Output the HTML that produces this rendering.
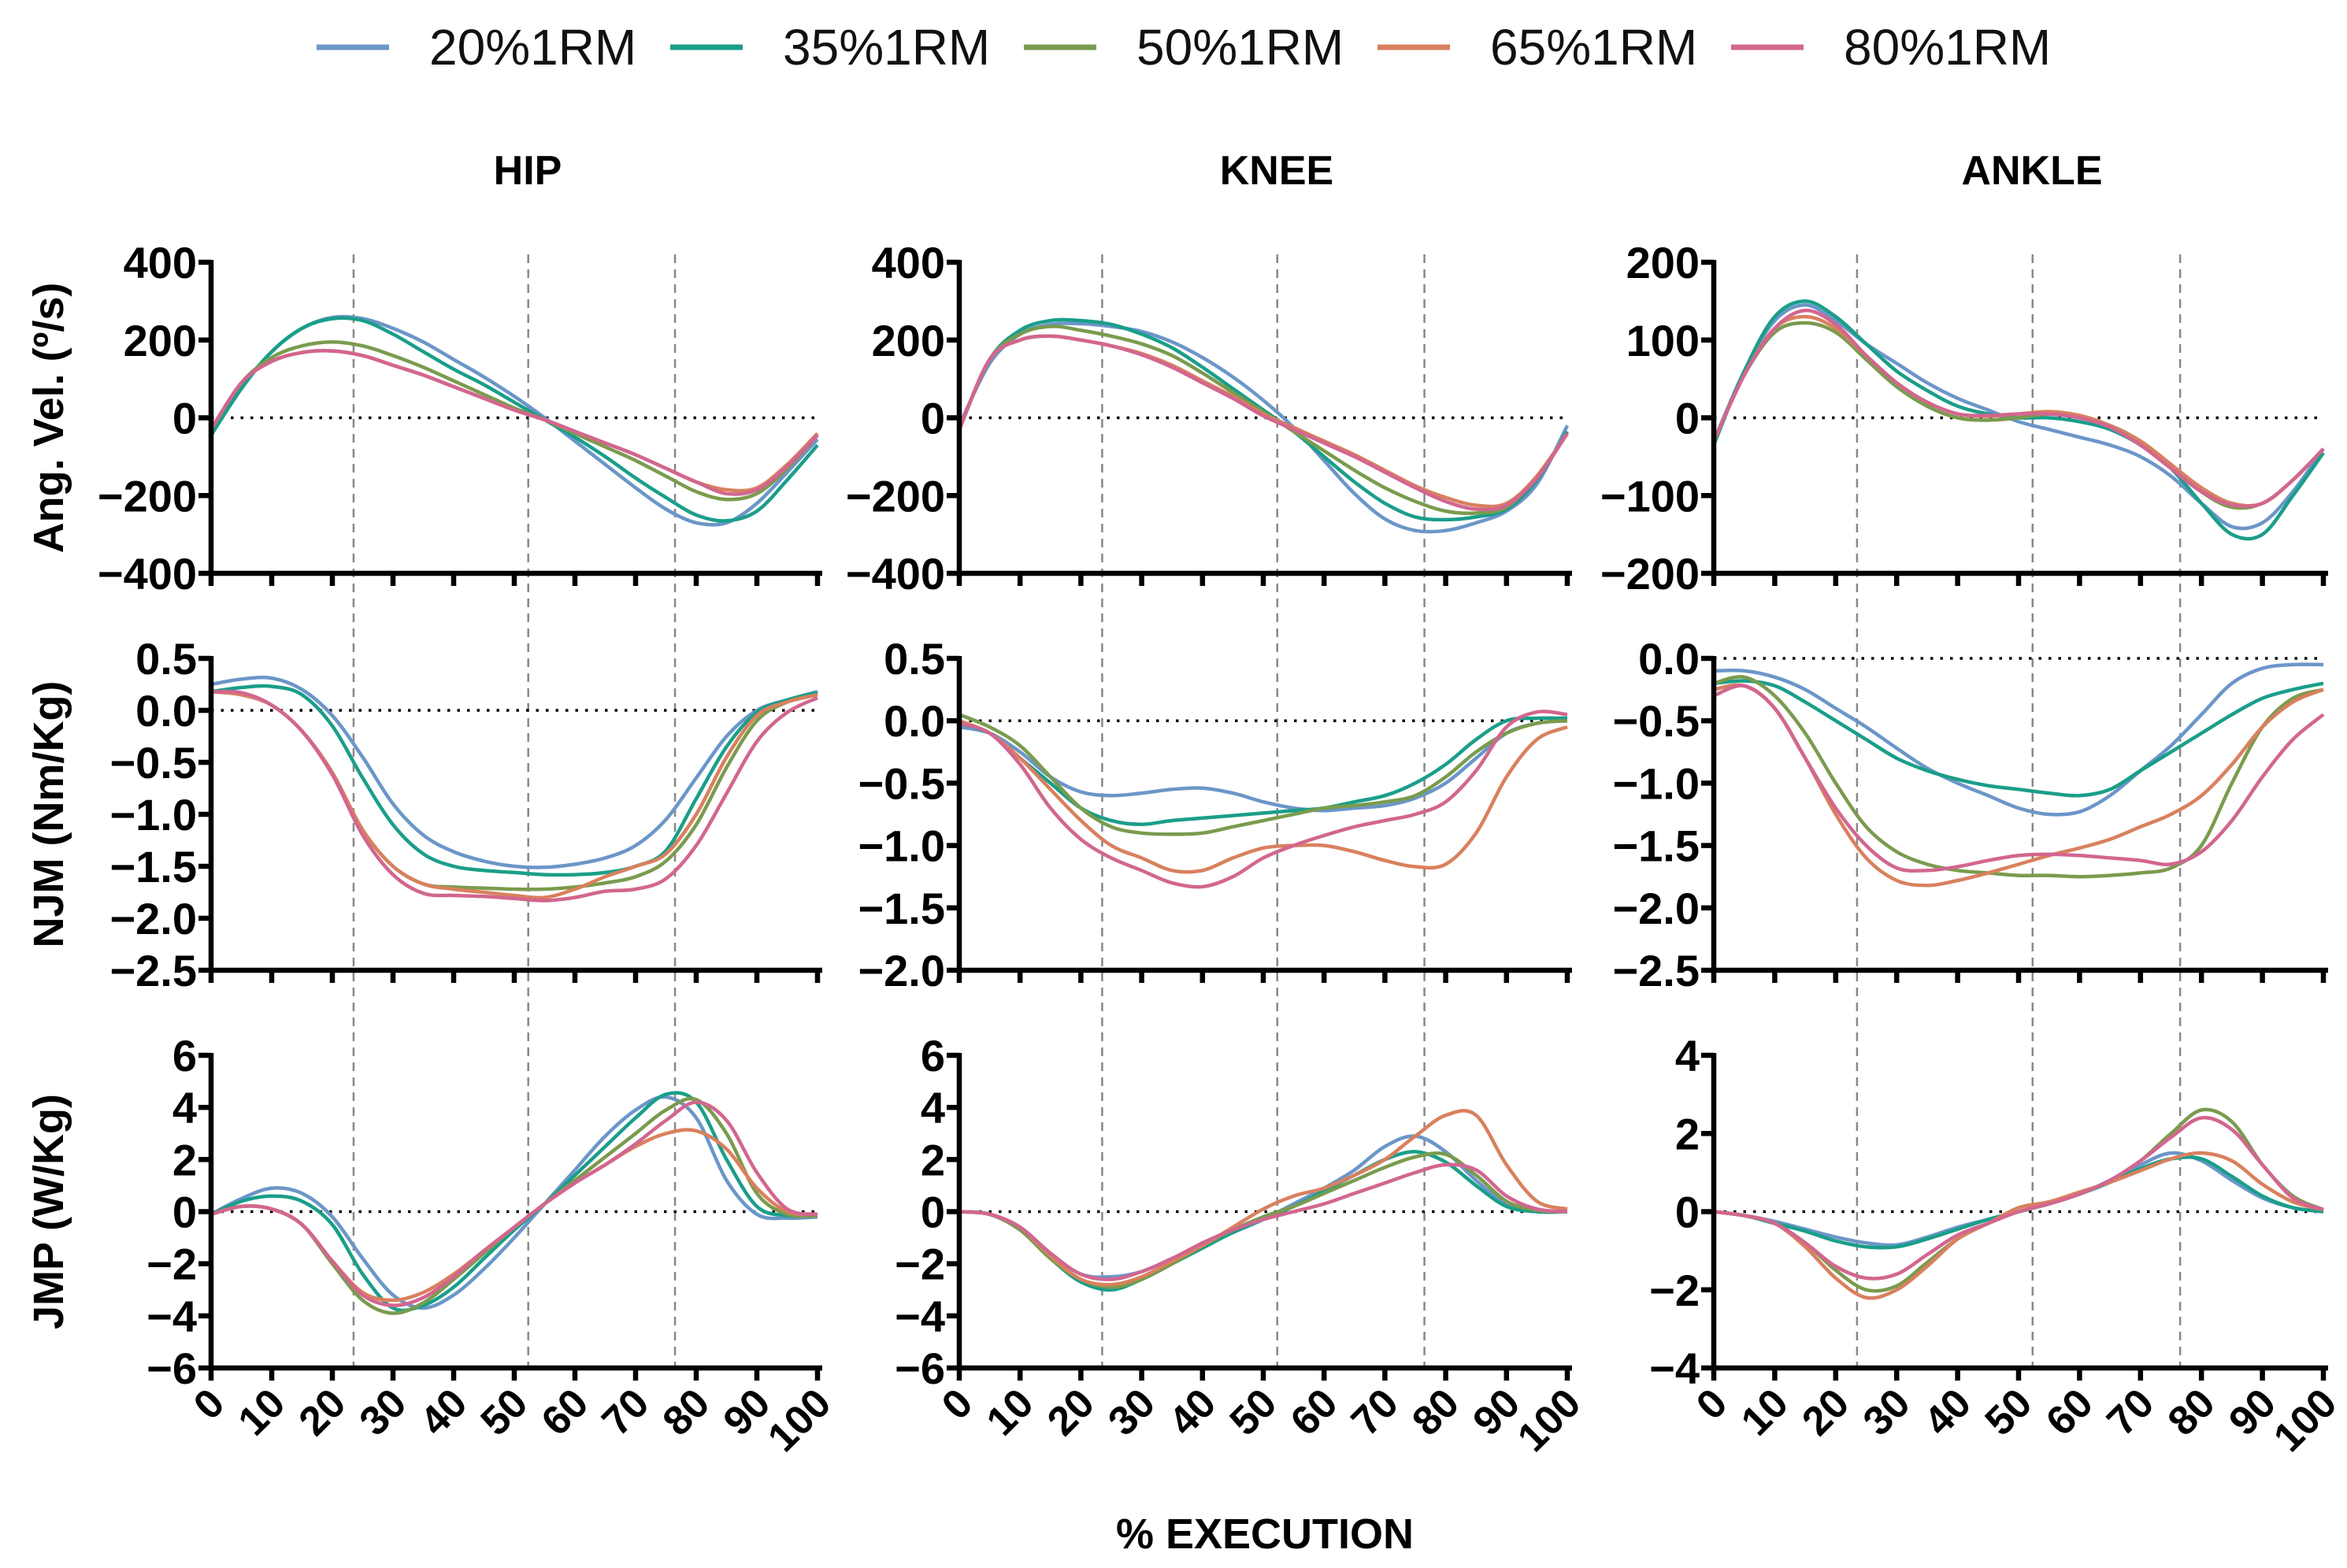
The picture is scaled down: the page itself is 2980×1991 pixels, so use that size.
<!DOCTYPE html>
<html><head><meta charset="utf-8"><style>
html,body{margin:0;padding:0;background:#fff}
svg{display:block;font-family:"Liberation Sans",Arial,sans-serif}
</style></head><body>
<svg id="chart" width="2980" height="1991" viewBox="0 0 2980 1991" xmlns="http://www.w3.org/2000/svg"></svg>
<script>
const xs = [0,5,10,15,20,25,30,35,40,45,50,55,60,65,70,75,80,85,90,95,100];
const seriesNames = ["20%1RM","35%1RM","50%1RM","65%1RM","80%1RM"];
const xTickLabels = ["0","10","20","30","40","50","60","70","80","90","100"];
const phaseLines = [23.5,52.3,76.5];
const colTitles = ["HIP","KNEE","ANKLE"];
const rowTitles = ["Ang. Vel. (º/s)","NJM (Nm/Kg)","JMP (W/Kg)"];
const yRanges = [[[-400,400],[-400,400],[-200,200]],[[-2.5,0.5],[-2.0,0.5],[-2.5,0.0]],[[-6,6],[-6,6],[-4,4]]];
const yTicks = [[[-400,-200,0,200,400],[-400,-200,0,200,400],[-200,-100,0,100,200]],
 [[-2.5,-2.0,-1.5,-1.0,-0.5,0.0,0.5],[-2.0,-1.5,-1.0,-0.5,0.0,0.5],[-2.5,-2.0,-1.5,-1.0,-0.5,0.0]],
 [[-6,-4,-2,0,2,4,6],[-6,-4,-2,0,2,4,6],[-4,-2,0,2,4]]];

const hipVel20=[-30,80,170,230,258,255,230,195,150,105,55,0,-60,-120,-180,-235,-270,-270,-220,-140,-55];
const hipVel35=[-45,75,170,230,255,250,215,170,125,85,40,-5,-50,-100,-155,-205,-250,-265,-240,-160,-70];
const hipVel50=[-30,90,155,185,195,185,160,130,95,60,25,-5,-40,-75,-110,-150,-190,-210,-195,-130,-45];
const hipVel65=[-30,90,145,168,172,160,135,110,80,50,20,-5,-35,-65,-95,-130,-165,-185,-180,-120,-40];
const hipVel80=[-30,90,145,168,172,160,135,110,80,50,20,-5,-35,-65,-95,-130,-165,-195,-185,-125,-45];
const hipNjm20=[0.25,0.3,0.31,0.2,-0.05,-0.45,-0.9,-1.2,-1.36,-1.45,-1.5,-1.51,-1.48,-1.42,-1.3,-1.05,-0.65,-0.25,0.0,0.1,0.18];
const hipNjm35=[0.18,0.22,0.23,0.15,-0.15,-0.65,-1.1,-1.38,-1.5,-1.54,-1.56,-1.58,-1.58,-1.56,-1.5,-1.35,-0.85,-0.35,-0.02,0.1,0.17];
const hipNjm50=[0.18,0.15,0.05,-0.2,-0.6,-1.15,-1.5,-1.67,-1.7,-1.71,-1.72,-1.72,-1.7,-1.66,-1.6,-1.45,-1.1,-0.55,-0.1,0.08,0.15];
const hipNjm65=[0.18,0.15,0.05,-0.2,-0.6,-1.15,-1.5,-1.67,-1.72,-1.75,-1.78,-1.8,-1.72,-1.6,-1.5,-1.38,-1.0,-0.45,-0.05,0.08,0.15];
const hipNjm80=[0.18,0.17,0.05,-0.2,-0.62,-1.2,-1.58,-1.76,-1.78,-1.79,-1.81,-1.83,-1.8,-1.74,-1.72,-1.62,-1.3,-0.8,-0.3,-0.02,0.12];
const hipJmp20=[-0.1,0.5,0.9,0.7,-0.2,-1.8,-3.2,-3.7,-3.2,-2.2,-1.0,0.3,1.6,2.9,3.9,4.4,3.6,1.2,-0.1,-0.25,-0.2];
const hipJmp35=[-0.1,0.4,0.6,0.4,-0.5,-2.4,-3.7,-3.6,-2.9,-1.8,-0.7,0.3,1.4,2.5,3.6,4.5,4.2,2.0,0.2,-0.15,-0.15];
const hipJmp50=[-0.1,0.2,0.1,-0.5,-2.0,-3.4,-3.9,-3.5,-2.6,-1.6,-0.6,0.3,1.2,2.1,3.0,3.9,4.3,3.0,0.7,-0.1,-0.15];
const hipJmp65=[-0.1,0.2,0.1,-0.5,-1.9,-3.1,-3.4,-3.1,-2.4,-1.5,-0.6,0.3,1.1,1.8,2.5,3.0,3.1,2.4,0.9,0.0,-0.1];
const hipJmp80=[-0.1,0.2,0.1,-0.5,-1.9,-3.2,-3.6,-3.3,-2.5,-1.5,-0.6,0.3,1.1,1.8,2.6,3.5,4.2,3.5,1.5,0.1,-0.1];
const kneeVel20=[-20,140,215,240,242,235,222,195,155,105,45,-25,-110,-195,-260,-290,-290,-270,-240,-170,-20];
const kneeVel35=[-30,150,225,250,250,240,215,180,130,75,20,-35,-100,-165,-220,-255,-262,-255,-235,-160,-35];
const kneeVel50=[-30,150,215,235,225,210,190,160,115,65,15,-35,-85,-135,-180,-215,-240,-245,-230,-150,-40];
const kneeVel65=[-30,150,200,210,200,185,165,135,95,55,10,-25,-60,-95,-135,-175,-205,-225,-220,-150,-40];
const kneeVel80=[-30,150,200,210,200,185,162,130,90,50,5,-30,-65,-100,-140,-180,-215,-235,-225,-155,-40];
const kneeNjm20=[-0.05,-0.1,-0.25,-0.45,-0.57,-0.6,-0.58,-0.55,-0.54,-0.58,-0.65,-0.7,-0.72,-0.7,-0.68,-0.62,-0.5,-0.3,-0.1,-0.02,0.0];
const kneeNjm35=[-0.02,-0.1,-0.3,-0.5,-0.7,-0.8,-0.83,-0.8,-0.78,-0.76,-0.74,-0.72,-0.7,-0.65,-0.6,-0.5,-0.35,-0.15,0.0,0.02,0.02];
const kneeNjm50=[0.05,-0.05,-0.2,-0.45,-0.7,-0.85,-0.9,-0.91,-0.9,-0.85,-0.8,-0.75,-0.7,-0.68,-0.65,-0.6,-0.45,-0.25,-0.1,-0.02,0.0];
const kneeNjm65=[0.0,-0.1,-0.3,-0.55,-0.8,-1.0,-1.1,-1.2,-1.2,-1.1,-1.02,-1.0,-1.0,-1.05,-1.12,-1.17,-1.15,-0.9,-0.45,-0.15,-0.05];
const kneeNjm80=[-0.02,-0.1,-0.35,-0.7,-0.95,-1.1,-1.2,-1.3,-1.33,-1.25,-1.1,-1.0,-0.92,-0.85,-0.8,-0.75,-0.65,-0.4,-0.05,0.07,0.05];
const kneeJmp20=[0,-0.1,-0.6,-1.6,-2.4,-2.5,-2.3,-1.8,-1.3,-0.8,-0.3,0.3,0.9,1.6,2.5,2.9,2.3,1.2,0.3,0.0,0.0];
const kneeJmp35=[0,-0.1,-0.7,-1.8,-2.7,-3.0,-2.6,-2.0,-1.4,-0.8,-0.3,0.2,0.8,1.4,2.0,2.3,1.9,1.0,0.2,0,0];
const kneeJmp50=[0,-0.1,-0.7,-1.8,-2.6,-2.9,-2.6,-2.0,-1.3,-0.7,-0.2,0.2,0.7,1.2,1.7,2.1,2.2,1.4,0.4,0.05,0];
const kneeJmp65=[0,-0.1,-0.6,-1.7,-2.6,-2.8,-2.5,-1.9,-1.3,-0.6,0.1,0.6,0.9,1.4,2.0,2.9,3.7,3.7,1.8,0.4,0.1];
const kneeJmp80=[0,-0.1,-0.6,-1.6,-2.4,-2.6,-2.3,-1.8,-1.2,-0.7,-0.3,0.0,0.3,0.7,1.1,1.5,1.8,1.6,0.6,0.1,0.0];
const ankVel20=[-30,60,125,145,125,95,70,45,25,10,-5,-15,-25,-35,-50,-75,-110,-140,-135,-95,-40];
const ankVel35=[-35,60,130,150,130,95,60,35,15,5,0,0,-5,-15,-35,-65,-110,-150,-150,-100,-45];
const ankVel50=[-30,55,110,122,110,75,40,15,0,-3,0,5,0,-10,-30,-60,-95,-115,-110,-80,-40];
const ankVel65=[-30,55,115,130,115,80,45,20,5,2,5,8,3,-10,-30,-60,-90,-110,-110,-80,-40];
const ankVel80=[-30,55,115,138,120,80,45,20,5,3,5,5,0,-12,-35,-65,-95,-112,-110,-80,-40];
const ankNjm20=[-0.1,-0.1,-0.15,-0.25,-0.4,-0.55,-0.72,-0.88,-1.0,-1.1,-1.2,-1.25,-1.23,-1.1,-0.9,-0.7,-0.45,-0.2,-0.08,-0.05,-0.05];
const ankNjm35=[-0.2,-0.18,-0.22,-0.35,-0.5,-0.65,-0.8,-0.9,-0.97,-1.02,-1.05,-1.08,-1.1,-1.05,-0.9,-0.75,-0.6,-0.45,-0.32,-0.25,-0.2];
const ankNjm50=[-0.2,-0.15,-0.3,-0.6,-1.0,-1.35,-1.55,-1.65,-1.7,-1.72,-1.74,-1.74,-1.75,-1.74,-1.72,-1.68,-1.5,-1.0,-0.55,-0.32,-0.25];
const ankNjm65=[-0.25,-0.22,-0.4,-0.8,-1.25,-1.6,-1.78,-1.82,-1.78,-1.72,-1.65,-1.58,-1.52,-1.45,-1.35,-1.25,-1.1,-0.85,-0.55,-0.35,-0.25];
const ankNjm80=[-0.3,-0.22,-0.4,-0.8,-1.2,-1.5,-1.68,-1.7,-1.67,-1.62,-1.58,-1.57,-1.58,-1.6,-1.62,-1.65,-1.55,-1.3,-0.95,-0.65,-0.45];
const ankJmp20=[0,-0.1,-0.25,-0.45,-0.65,-0.8,-0.85,-0.65,-0.4,-0.2,0.0,0.2,0.45,0.8,1.2,1.5,1.3,0.8,0.35,0.1,0.0];
const ankJmp35=[0,-0.1,-0.3,-0.5,-0.75,-0.9,-0.9,-0.7,-0.45,-0.2,0.0,0.2,0.45,0.75,1.1,1.35,1.35,0.9,0.4,0.1,0.0];
const ankJmp50=[0,-0.1,-0.3,-0.8,-1.5,-2.0,-1.9,-1.3,-0.7,-0.3,0.0,0.2,0.45,0.8,1.3,2.0,2.6,2.3,1.2,0.4,0.05];
const ankJmp65=[0,-0.1,-0.3,-0.9,-1.7,-2.2,-2.0,-1.4,-0.7,-0.3,0.1,0.25,0.5,0.75,1.05,1.35,1.5,1.3,0.7,0.25,0.05];
const ankJmp80=[0,-0.1,-0.3,-0.8,-1.4,-1.7,-1.6,-1.1,-0.6,-0.3,0.0,0.2,0.45,0.8,1.3,1.9,2.4,2.1,1.2,0.35,0.05];

const panelData = [
 [[hipVel20,hipVel35,hipVel50,hipVel65,hipVel80],[kneeVel20,kneeVel35,kneeVel50,kneeVel65,kneeVel80],[ankVel20,ankVel35,ankVel50,ankVel65,ankVel80]],
 [[hipNjm20,hipNjm35,hipNjm50,hipNjm65,hipNjm80],[kneeNjm20,kneeNjm35,kneeNjm50,kneeNjm65,kneeNjm80],[ankNjm20,ankNjm35,ankNjm50,ankNjm65,ankNjm80]],
 [[hipJmp20,hipJmp35,hipJmp50,hipJmp65,hipJmp80],[kneeJmp20,kneeJmp35,kneeJmp50,kneeJmp65,kneeJmp80],[ankJmp20,ankJmp35,ankJmp50,ankJmp65,ankJmp80]]
];

const colors = ["#6b96c8","#1a9e8a","#7a9b4e","#d9805e","#d2668f"];
const colX = [[268,1038],[1218,1990],[2176,2950]];
const rowY = [[333,728],[836,1232],[1340,1737]];
const NS = "http://www.w3.org/2000/svg";
const svg = document.getElementById('chart');
function mk(tag, attrs, parent){const e=document.createElementNS(NS,tag);for(const k in attrs)e.setAttribute(k,attrs[k]);(parent||svg).appendChild(e);return e;}
function fmt(v,dec){return (v<0?"\u2212":"")+Math.abs(v).toFixed(dec);}
function smooth(pts){let d="M"+pts[0][0]+","+pts[0][1];for(let i=0;i<pts.length-1;i++){const p0=pts[Math.max(0,i-1)],p1=pts[i],p2=pts[i+1],p3=pts[Math.min(pts.length-1,i+2)];
 const c1=[p1[0]+(p2[0]-p0[0])/6,p1[1]+(p2[1]-p0[1])/6],c2=[p2[0]-(p3[0]-p1[0])/6,p2[1]-(p3[1]-p1[1])/6];
 d+=" C"+c1[0].toFixed(1)+","+c1[1].toFixed(1)+" "+c2[0].toFixed(1)+","+c2[1].toFixed(1)+" "+p2[0].toFixed(1)+","+p2[1].toFixed(1);}return d;}

const leg = mk('g',{});


seriesNames.forEach((n,i)=>{
 const g=mk('g',{},leg);
 
 
 const x0=402+i*449;
 mk('line',{x1:x0,y1:60,x2:x0+92,y2:60,stroke:colors[i],'stroke-width':7},g);
 const t=mk('text',{x:x0+143,y:82,'font-size':64,fill:'#111'},g);t.textContent=n;
});

phaseLines.forEach((p,pi)=>{colX.forEach((cx,c)=>{
 const x=cx[0]+(cx[1]-cx[0])*p/100;
 const l=mk('line',{x1:x,y1:323,x2:x,y2:1737,stroke:'#888','stroke-width':2.5,'stroke-dasharray':'11 8'});
 
 
});});

colTitles.forEach((t,c)=>{const e=mk('text',{x:(colX[c][0]+colX[c][1])/2+17,y:234,'font-size':52,'font-weight':'bold','text-anchor':'middle'});
 
 
 e.textContent=t;});
rowTitles.forEach((t,r)=>{const cy=(rowY[r][0]+rowY[r][1])/2;const e=mk('text',{x:0,y:0,'font-size':54,'font-weight':'bold','text-anchor':'middle',transform:`translate(80,${cy}) rotate(-90)`});
 
 
 e.textContent=t;});

for(let r=0;r<3;r++)for(let c=0;c<3;c++){
 const [x0,x1]=colX[c],[yt,yb]=rowY[r],[ymin,ymax]=yRanges[r][c];
 const X=v=>x0+(x1-x0)*v/100, Y=v=>yb-(yb-yt)*(v-ymin)/(ymax-ymin);
 const g=mk('g',{});
 
 
 mk('line',{x1:x0,y1:Y(0),x2:x1,y2:Y(0),stroke:'#000','stroke-width':3.5,'stroke-dasharray':'3.5 9'},g);
 panelData[r][c].forEach((arr,i)=>{
  const p=mk('path',{d:smooth(arr.map((v,k)=>[X(xs[k]),Y(v)])),fill:'none',stroke:colors[i],'stroke-width':4.5},g);
  
  
 });
 mk('line',{x1:x0,y1:yt-3,x2:x0,y2:yb+3,stroke:'#000','stroke-width':6.5},g);
 mk('line',{x1:x0-3,y1:yb,x2:x1+6,y2:yb,stroke:'#000','stroke-width':6.5},g);
 const dec = r===1?1:0;
 yTicks[r][c].forEach(v=>{
  mk('line',{x1:x0-16,y1:Y(v),x2:x0,y2:Y(v),stroke:'#000','stroke-width':6.5},g);
  const t=mk('text',{x:x0-18,y:Y(v)+20,'font-size':56,'font-weight':'bold','text-anchor':'end'},g);t.textContent=fmt(v,dec);
 });
 xTickLabels.forEach((lab,k)=>{const xv=X(k*10);
  mk('line',{x1:xv,y1:yb,x2:xv,y2:yb+16,stroke:'#000','stroke-width':6.5},g);
  if(r===2){const t=mk('text',{x:0,y:0,'font-size':52,'font-weight':'bold','text-anchor':'end',transform:`translate(${xv+20},${yb+48}) rotate(-45)`},g);t.textContent=lab;}
 });
}
const xt=mk('text',{x:1606,y:1966,'font-size':54,'font-weight':'bold','text-anchor':'middle'});


xt.textContent='% EXECUTION';
</script>
</body></html>
